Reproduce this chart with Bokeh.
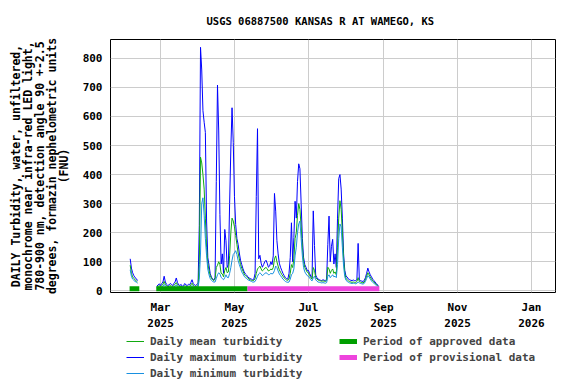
import numpy as np
import pandas as pd
from datetime import datetime
from bokeh.plotting import figure
from bokeh.layouts import column
from bokeh.models import Range1d, FixedTicker, Legend, LegendItem, ColumnDataSource, Title
from bokeh.embed import file_html
from bokeh.resources import INLINE

FONT = "DejaVu Sans Mono"

TITLE = "USGS 06887500 KANSAS R AT WAMEGO, KS"
YLABEL_LINES = ["DAILY Turbidity, water, unfiltered,",
                "monochrome near infra-red LED light,",
                "780-900 nm, detection angle 90 +-2.5",
                "degrees, formazin nephelometric units",
                "(FNU)"]

# ---- daily values (FNU) ----
seg1_start = "2025-02-04"
seg1_max = [110, 78, 62, 52, 45, 42, 35]
seg1_mean = [88, 60, 48, 42, 38, 34, 30]
seg1_min = [72, 50, 40, 36, 32, 30, 26]

feb_start = "2025-02-26"
feb_max = [16, 20, 24]
feb_mean = [12, 15, 18]
feb_min = [9, 11, 13]

mar_start = "2025-03-01"
mar_max = [18, 25, 30, 50, 30, 22, 18, 20, 25, 22, 18, 25, 30, 44, 28, 20, 18, 22, 15, 18, 25, 20, 18, 22, 20, 28, 38, 25, 20, 18, 22]
mar_mean = [14, 18, 22, 32, 22, 17, 14, 15, 18, 16, 14, 18, 22, 28, 20, 15, 14, 16, 12, 14, 18, 15, 14, 16, 15, 20, 26, 19, 15, 14, 16]
mar_min = [10, 13, 16, 22, 16, 12, 10, 11, 13, 12, 10, 13, 16, 20, 14, 11, 10, 12, 9, 10, 13, 11, 10, 12, 11, 14, 18, 14, 11, 10, 12]

apr_start = "2025-04-01"
apr_max = [25, 225, 838, 760, 620, 580, 545, 240, 115, 88, 59, 47, 40, 37, 45, 376, 708, 550, 262, 92, 127, 60, 211, 172, 80, 90, 300, 488, 630, 511]
apr_mean = [18, 90, 460, 440, 400, 350, 250, 150, 95, 70, 52, 44, 38, 35, 40, 80, 88, 100, 90, 60, 58, 48, 70, 80, 62, 65, 120, 200, 250, 240]
apr_min = [12, 40, 130, 300, 320, 260, 180, 120, 75, 55, 42, 36, 32, 30, 30, 42, 55, 62, 58, 46, 42, 38, 45, 55, 46, 45, 60, 80, 105, 125]

may_start = "2025-05-01"
may_max = [325, 228, 180, 160, 130, 105, 90, 76, 65, 58, 54, 48, 44, 42, 40, 38, 40, 60, 325, 558, 110, 122, 95, 81, 90, 100, 105, 95, 81, 85, 100]
may_mean = [220, 190, 160, 130, 110, 90, 78, 68, 58, 52, 48, 44, 40, 38, 36, 35, 36, 42, 60, 75, 80, 85, 75, 68, 72, 78, 80, 76, 68, 70, 75]
may_min = [130, 138, 125, 105, 90, 78, 65, 58, 50, 45, 42, 38, 36, 34, 32, 30, 30, 32, 40, 50, 58, 62, 58, 52, 55, 60, 62, 60, 55, 56, 60]

jun_start = "2025-06-01"
jun_max = [90, 120, 335, 274, 173, 127, 95, 81, 70, 60, 52, 45, 42, 40, 60, 115, 234, 100, 183, 308, 250, 376, 437, 420, 300, 180, 115, 90, 81, 70]
jun_mean = [72, 80, 110, 120, 100, 85, 72, 64, 56, 50, 44, 40, 37, 36, 40, 60, 90, 80, 110, 180, 200, 260, 300, 280, 220, 150, 100, 80, 72, 64]
jun_min = [58, 60, 70, 85, 80, 68, 58, 52, 46, 40, 36, 32, 30, 29, 30, 40, 55, 60, 75, 120, 150, 200, 230, 240, 180, 120, 80, 65, 58, 52]

jul_start = "2025-07-01"
jul_max = [70, 59, 50, 45, 275, 156, 54, 45, 40, 38, 36, 35, 38, 36, 35, 40, 160, 257, 100, 153, 177, 92, 127, 80, 250, 386, 400, 350, 250, 127, 70]
jul_mean = [62, 52, 45, 40, 80, 70, 45, 40, 37, 35, 34, 33, 34, 33, 32, 35, 81, 75, 60, 70, 75, 60, 65, 55, 150, 250, 310, 280, 200, 110, 60]
jul_min = [50, 44, 38, 34, 45, 50, 38, 33, 30, 29, 28, 27, 28, 27, 26, 28, 50, 55, 45, 50, 55, 48, 50, 45, 90, 180, 230, 220, 150, 85, 48]

aug_start = "2025-08-01"
aug_max = [50, 47, 40, 38, 36, 35, 37, 35, 34, 40, 163, 37, 35, 33, 32, 35, 45, 60, 78, 65, 55, 48, 40, 35, 30, 25, 20, 16]
aug_mean = [42, 38, 34, 32, 30, 29, 30, 29, 28, 32, 45, 32, 30, 28, 27, 30, 38, 50, 62, 55, 47, 40, 34, 30, 26, 22, 18, 14]
aug_min = [36, 32, 29, 27, 26, 25, 26, 25, 24, 26, 30, 27, 25, 24, 23, 25, 32, 42, 52, 48, 40, 34, 29, 26, 22, 18, 15, 12]

gap_date = "2025-02-18"

approved_start = ["2025-02-03 12:00", "2025-02-25 12:00"]
approved_end = ["2025-02-11 12:00", "2025-05-11 18:00"]
provisional_start = ["2025-05-11 18:00"]
provisional_end = ["2025-08-28 12:00"]

x_ticks = ["2025-03-01", "2025-05-01", "2025-07-01", "2025-09-01", "2025-11-01", "2026-01-01"]
x_tick_labels = ["Mar\n2025", "May\n2025", "Jul\n2025", "Sep\n2025", "Nov\n2025", "Jan\n2026"]
y_ticks = [0, 100, 200, 300, 400, 500, 600, 700, 800]

MEAN_C, MAX_C, MIN_C = "#11aa11", "#0000ff", "#1890e0"
APPR_C, PROV_C = "#009f00", "#ee44dd"

# ---- assemble ----
pieces = [(seg1_start, seg1_max, seg1_mean, seg1_min)]
seg2 = [(feb_start, feb_max, feb_mean, feb_min), (mar_start, mar_max, mar_mean, mar_min),
        (apr_start, apr_max, apr_mean, apr_min), (may_start, may_max, may_mean, may_min),
        (jun_start, jun_max, jun_mean, jun_min), (jul_start, jul_max, jul_mean, jul_min),
        (aug_start, aug_max, aug_mean, aug_min)]

dates, vmax, vmean, vmin = [], [], [], []
for st, a, b, c in pieces:
    dates += list(pd.date_range(st, periods=len(a)))
    vmax += a; vmean += b; vmin += c
dates.append(pd.Timestamp(gap_date)); vmax.append(np.nan); vmean.append(np.nan); vmin.append(np.nan)
for st, a, b, c in seg2:
    dates += list(pd.date_range(st, periods=len(a)))
    vmax += a; vmean += b; vmin += c

src = ColumnDataSource(dict(x=dates, vmax=vmax, vmean=vmean, vmin=vmin))

def ms(s):
    return pd.Timestamp(s).value / 1e6

p = figure(width=576, height=333, x_axis_type="datetime", output_backend="svg",
           toolbar_location=None,
           x_range=Range1d(datetime(2025, 1, 18, 18), datetime(2026, 1, 20, 19)),
           y_range=Range1d(-6, 865),
           min_border_left=110, min_border_right=21, min_border_top=39, min_border_bottom=37)

p.background_fill_color = "white"
p.border_fill_color = "white"
p.outline_line_color = "black"
p.outline_line_width = 1

p.title.text = TITLE
p.title.align = "left"
p.title.offset = 96
p.title.text_font = FONT
p.title.text_font_style = "bold"
p.title.text_font_size = "10.5px"
p.title.text_color = "black"
p.title.standoff = 25

xt = FixedTicker(ticks=[ms(t) for t in x_ticks])
p.xaxis.ticker = xt
p.xgrid.ticker = xt
p.xaxis.major_label_overrides = {ms(t): lab for t, lab in zip(x_ticks, x_tick_labels)}
yt = FixedTicker(ticks=y_ticks)
p.yaxis.ticker = yt
p.ygrid.ticker = yt

for g in (p.xgrid, p.ygrid):
    g.grid_line_color = "#cccccc"
    g.grid_line_width = 1

for ax in (p.xaxis, p.yaxis):
    ax.axis_line_color = None
    ax.major_tick_line_color = None
    ax.minor_tick_line_color = None
    ax.major_tick_out = 0
    ax.major_tick_in = 0
    ax.major_label_text_font = FONT
    ax.major_label_text_font_style = "bold"
    ax.major_label_text_font_size = "11px"
    ax.major_label_text_color = "black"
    ax.major_label_standoff = 8
p.xaxis.major_label_text_line_height = 1.3

# spacer between the y tick labels and the stacked y-axis title lines
p.yaxis.axis_label = " "
p.yaxis.axis_label_text_font_size = "1px"
p.yaxis.axis_label_standoff = 7

# y-axis label as five stacked left-side titles (innermost first)
for line in reversed(YLABEL_LINES):
    t = Title(text=line, align="center", text_font=FONT, text_font_style="bold",
              text_font_size="11.5px", text_color="black", standoff=-4)
    p.add_layout(t, "left")

r_max = p.line("x", "vmax", source=src, line_color=MAX_C, line_width=1)
r_mean = p.line("x", "vmean", source=src, line_color=MEAN_C, line_width=1)
r_min = p.line("x", "vmin", source=src, line_color=MIN_C, line_width=1)

appr = ColumnDataSource(dict(x0=[pd.Timestamp(s) for s in approved_start],
                             x1=[pd.Timestamp(s) for s in approved_end],
                             y=[7] * len(approved_start)))
prov = ColumnDataSource(dict(x0=[pd.Timestamp(s) for s in provisional_start],
                             x1=[pd.Timestamp(s) for s in provisional_end],
                             y=[7] * len(provisional_start)))
p.segment("x0", "y", "x1", "y", source=appr, line_color=APPR_C, line_width=5, line_cap="butt")
p.segment("x0", "y", "x1", "y", source=prov, line_color=PROV_C, line_width=5, line_cap="butt")

# ---- legend strip below the chart ----
q = figure(width=576, height=51, output_backend="svg", toolbar_location=None,
           x_range=Range1d(0, 445), y_range=Range1d(0, 51),
           min_border_left=0, min_border_right=0, min_border_top=0, min_border_bottom=0)
q.axis.visible = False
q.grid.visible = False
q.outline_line_color = None
q.background_fill_color = "white"
q.border_fill_color = "white"
# legend-only renderers (no visible data)
empty = ColumnDataSource(dict(x=[np.nan], y=[np.nan]))
l_mean = q.line("x", "y", source=empty, line_color=MEAN_C, line_width=1)
l_max = q.line("x", "y", source=empty, line_color=MAX_C, line_width=1)
l_min = q.line("x", "y", source=empty, line_color=MIN_C, line_width=1)
l_appr = q.line("x", "y", source=empty, line_color=APPR_C, line_width=5, line_cap="butt")
l_prov = q.line("x", "y", source=empty, line_color=PROV_C, line_width=5, line_cap="butt")

legend_kw = dict(margin=0, padding=0, spacing=0, glyph_width=18, glyph_height=16, label_standoff=6,
                 label_text_font=FONT, label_text_font_style="bold", label_text_font_size="11px",
                 label_height=16, border_line_color=None, background_fill_alpha=0)
leg1 = Legend(items=[
    LegendItem(label="Daily mean turbidity", renderers=[l_mean]),
    LegendItem(label="Daily maximum turbidity", renderers=[l_max]),
    LegendItem(label="Daily minimum turbidity", renderers=[l_min]),
], location=(16, 3), **legend_kw)
leg2 = Legend(items=[
    LegendItem(label="Period of approved data", renderers=[l_appr]),
    LegendItem(label="Period of provisional data", renderers=[l_prov]),
], location=(229, 19), **legend_kw)
q.add_layout(leg1)
q.add_layout(leg2)

layout = column(p, q, spacing=0)
open("out.html", "w").write(file_html(layout, INLINE))
